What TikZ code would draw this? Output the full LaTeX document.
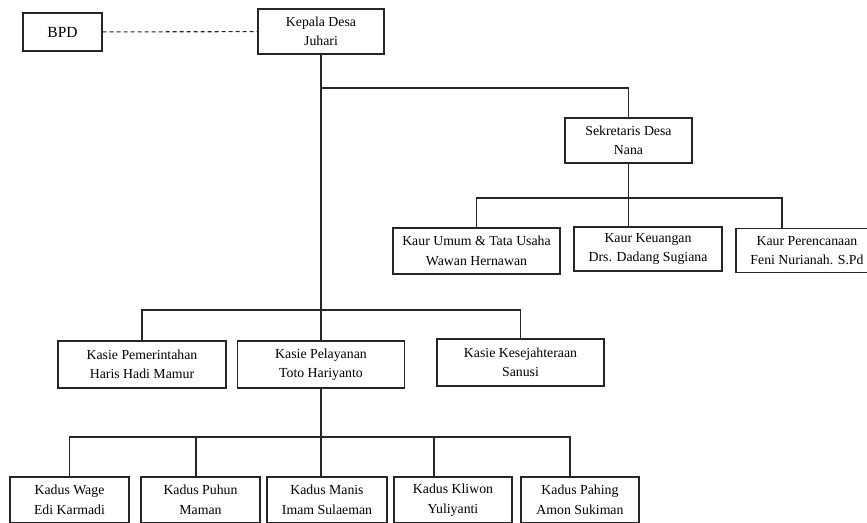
\documentclass[tikz,border=0pt]{standalone}
\usepackage{fontspec}
\setmainfont{Liberation Serif}
\usetikzlibrary{positioning}

\begin{document}
\begin{tikzpicture}[x=1pt,y=-1pt,
    box/.style={draw=black!85,line width=1.2pt,align=center,inner sep=0pt,
        font=\fontsize{13.8}{19.5}\selectfont},
    link/.style={draw=black!85,line width=1.1pt}]
    \useasboundingbox (0,0) rectangle (867,522);

    % Top level
    \node[box,minimum width=79pt,minimum height=38pt,font=\fontsize{15.5}{19}\selectfont] (bpd) at (62.5,32) {BPD};
    \node[box,minimum width=126pt,minimum height=45pt] (kades) at (321,31.5) {Kepala Desa\\Juhari};
    \node[box,minimum width=127pt,minimum height=45pt] (sekdes) at (628.5,140.5) {Sekretaris Desa\\Nana};

    % Kaur
    \node[box,minimum width=167pt,minimum height=46pt] (kaur1) at (476.5,251) {Kaur Umum \& Tata Usaha\\Wawan Hernawan};
    \node[box,minimum width=148pt,minimum height=44pt] (kaur2) at (648,249) {Kaur Keuangan\\Drs. Dadang Sugiana};
    \node[box,minimum width=142pt,minimum height=44pt] (kaur3) at (807,250.5) {Kaur Perencanaan\\Feni Nurianah. S.Pd};

    % Kasie
    \node[box,minimum width=168pt,minimum height=47pt] (kasie1) at (142,364.5) {Kasie Pemerintahan\\Haris Hadi Mamur};
    \node[box,minimum width=167pt,minimum height=47pt] (kasie2) at (321,364.5) {Kasie Pelayanan\\Toto Hariyanto};
    \node[box,minimum width=167pt,minimum height=47pt] (kasie3) at (520.5,362.5) {Kasie Kesejahteraan\\Sanusi};

    % Kadus
    \node[box,minimum width=119pt,minimum height=46pt] (kadus1) at (69.5,500) {Kadus Wage\\Edi Karmadi};
    \node[box,minimum width=119pt,minimum height=46pt] (kadus2) at (200.5,500) {Kadus Puhun\\Maman};
    \node[box,minimum width=120pt,minimum height=46pt] (kadus3) at (327,500) {Kadus Manis\\Imam Sulaeman};
    \node[box,minimum width=118pt,minimum height=46pt] (kadus4) at (453,500) {Kadus Kliwon\\Yuliyanti};
    \node[box,minimum width=118pt,minimum height=46pt] (kadus5) at (580,500) {Kadus Pahing\\Amon Sukiman};

    % Junctions
    \coordinate (j1) at (321,88);
    \coordinate (j2) at (628.5,198);
    \coordinate (j3) at (321,310);
    \coordinate (j4) at (321,437);

    % Lines
    \draw[link,dash pattern=on 4pt off 3pt] (bpd) -- (kades);
    \draw[link] (kades.south) -- (kasie2.north);
    \draw[link] (kasie2.south) -- (kasie2.south |- kadus3.north);
    \draw[link] (j1) -| (sekdes.north);
    \draw[link] (sekdes.south) -- (sekdes.south |- kaur2.north);
    \draw[link] (kaur1.north) |- (j2) -| ([xshift=-25pt]kaur3.north);
    \draw[link] (kasie1.north) |- (j3) -| (kasie3.north);
    \draw[link] (kadus1.north) |- (j4) -| ([xshift=-10pt]kadus5.north);
    \draw[link] ([xshift=-4.5pt]kadus2.north) -- ([xshift=-4.5pt]kadus2.north |- j4);
    \draw[link] ([xshift=-19pt]kadus4.north) -- ([xshift=-19pt]kadus4.north |- j4);
\end{tikzpicture}
\end{document}
